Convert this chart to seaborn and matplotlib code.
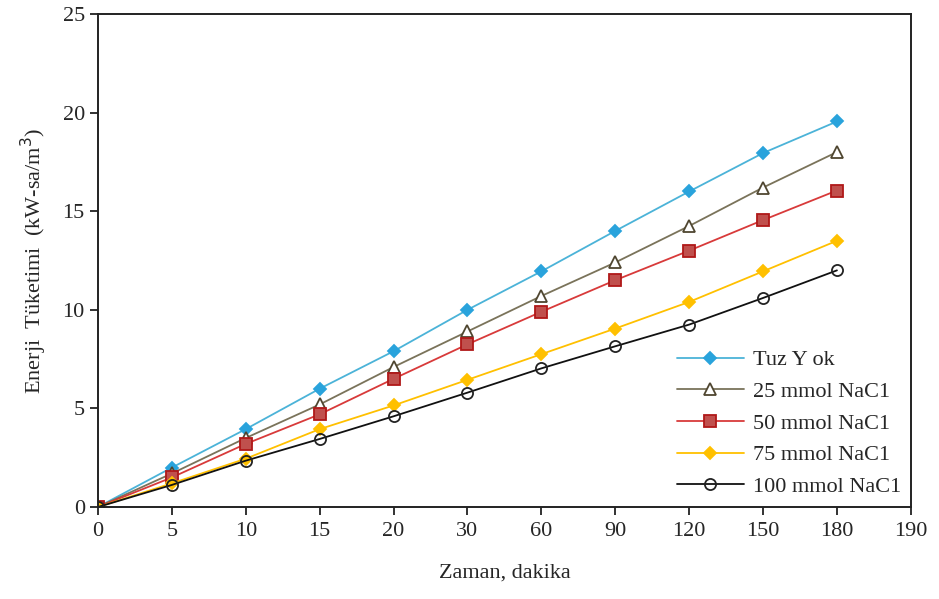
import numpy as np
import pandas as pd
import matplotlib
matplotlib.use("Agg")
import matplotlib.pyplot as plt
import seaborn as sns

# x axis categories (equally spaced in the original chart)
zaman = [0, 5, 10, 15, 20, 30, 60, 90, 120, 150, 180]
tick_labels = ["0", "5", "10", "15", "20", "30", "60", "90", "120", "150", "180", "190"]

tuz_yok = [0, 2.0, 3.95, 6.0, 7.9, 10.0, 11.95, 14.0, 16.0, 17.95, 19.55]
nacl_25 = [0, 1.7, 3.5, 5.2, 7.1, 8.9, 10.7, 12.4, 14.25, 16.2, 18.0]
nacl_50 = [0, 1.5, 3.2, 4.7, 6.5, 8.25, 9.9, 11.5, 13.0, 14.55, 16.05]
nacl_75 = [0, 1.2, 2.45, 3.95, 5.15, 6.45, 7.75, 9.05, 10.4, 11.95, 13.5]
nacl_100 = [0, 1.12, 2.35, 3.45, 4.6, 5.8, 7.03, 8.15, 9.25, 10.6, 12.0]

series_names = ["Tuz Y ok", "25 mmol NaC1", "50 mmol NaC1", "75 mmol NaC1", "100 mmol NaC1"]
series_vals = [tuz_yok, nacl_25, nacl_50, nacl_75, nacl_100]

styles = {
    "Tuz Y ok": dict(color="#4bb3d8", marker="D", markersize=6, markerfacecolor="#29a3dc", markeredgecolor="#29a3dc"),
    "25 mmol NaC1": dict(color="#7a735a", marker="^", markersize=9, markerfacecolor="white", markeredgecolor="#4f4630"),
    "50 mmol NaC1": dict(color="#d83a3a", marker="s", markersize=9, markerfacecolor="#c0504d", markeredgecolor="#b01818"),
    "75 mmol NaC1": dict(color="#ffc000", marker="D", markersize=6, markerfacecolor="#ffc000", markeredgecolor="#ffc000"),
    "100 mmol NaC1": dict(color="#111111", marker="o", markersize=8, markerfacecolor="none", markeredgecolor="#222222"),
}

rows = []
for name, vals in zip(series_names, series_vals):
    for i, v in enumerate(vals):
        rows.append({"pos": i, "val": v, "seri": name})
df = pd.DataFrame(rows)

sns.set_theme(style="ticks")
plt.rcParams["font.family"] = ["Liberation Serif", "DejaVu Serif"]

fig = plt.figure(figsize=(9.39, 5.99), dpi=100)
ax = fig.add_axes([0.1044, 0.1536, 0.8656, 0.823])

for name in series_names:
    sub = df[df["seri"] == name]
    sns.lineplot(data=sub, x="pos", y="val", ax=ax, label=name,
                 linewidth=1.3, markeredgewidth=1.3, **styles[name])

ax.set_xlim(0, 11)
ax.set_ylim(0, 25)
ax.set_xticks(range(len(tick_labels)))
ax.set_xticklabels(tick_labels)
ax.set_yticks([0, 5, 10, 15, 20, 25])
ax.tick_params(axis="both", labelsize=16, length=6, width=1.3, color="#222222", direction="out")
ax.tick_params(axis="x", pad=5)
for sp in ax.spines.values():
    sp.set_linewidth(1.4)
    sp.set_color("#222222")

ax.set_xlabel("Zaman, dakika", fontsize=16, labelpad=16)
ax.set_ylabel("Enerji  Tüketimi  (kW-sa/m$^3$)", fontsize=16, labelpad=10)

ax.legend(loc="lower right", frameon=False, fontsize=16, handlelength=3.0,
          handletextpad=0.4, labelspacing=0.5, borderaxespad=0.05,
          bbox_to_anchor=(1.0, 0.0))

fig.savefig("out.png", dpi=100, facecolor="white")
